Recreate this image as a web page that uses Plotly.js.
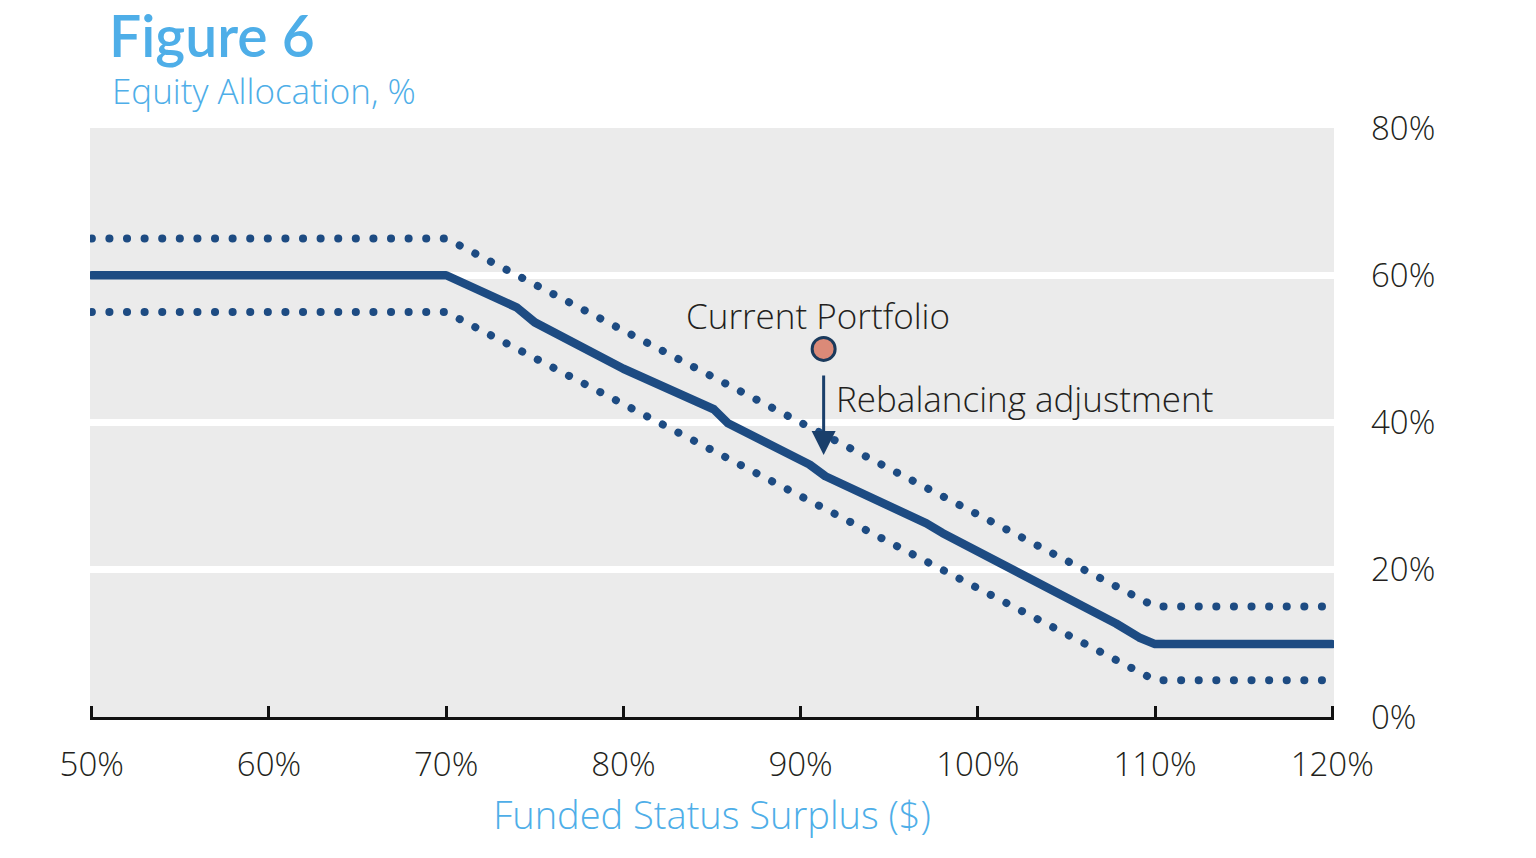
<!DOCTYPE html>
<html>
<head>
<meta charset="utf-8">
<script src="https://cdn.plot.ly/plotly-3.0.1.min.js"></script>
<style>
  html, body { margin: 0; padding: 0; background: #ffffff; }
  #chart { width: 1536px; height: 858px; }
  .scatterlayer path.js-line { stroke-linecap: round; stroke-linejoin: round; }
</style>
</head>
<body>
<div id="chart"></div>
<script>
// Funded status (x, %) and equity allocation (y, %)
const targetX = [50, 70, 74, 75, 80, 85.1, 85.9, 90.5, 91.4, 95.6, 97.1, 98, 102, 103.1, 107.8, 109.1, 110, 120];
const targetY = [60, 60, 55.6, 53.6, 47.3, 41.8, 39.9, 34.3, 32.7, 28.2, 26.3, 25.0, 20.1, 18.5, 12.7, 10.8, 9.9, 9.9];

const upperX = [50, 70, 110, 120];
const upperY = [65, 65, 15, 15];

const lowerX = [50, 70, 110, 120];
const lowerY = [55, 55, 5, 5];

const currentX = [91.3];
const currentY = [50];

const arrowFromY = 46.6;
const arrowToY = 35.6;

const xTickVals = [50, 60, 70, 80, 90, 100, 110, 120];
const xTickText = ["50%", "60%", "70%", "80%", "90%", "100%", "110%", "120%"];
const yTickVals = [0, 20, 40, 60, 80];
const yTickText = ["0%", "20%", "40%", "60%", "80%"];

const navy = "#1d4b82";
const lightBlue = "#4eaee8";
const textDark = "#231f20";
const FONT = "'Open Sans', Lato, sans-serif";
const TFONT = "Lato, 'Open Sans', sans-serif";

const traces = [
  { x: upperX, y: upperY, mode: "lines", line: { color: navy, width: 8, dash: "0.1px,17.5px" }, hoverinfo: "skip", name: "Upper band" },
  { x: lowerX, y: lowerY, mode: "lines", line: { color: navy, width: 8, dash: "0.1px,17.5px" }, hoverinfo: "skip", name: "Lower band" },
  { x: targetX, y: targetY, mode: "lines", line: { color: navy, width: 8.5 }, name: "Target" },
  { x: currentX, y: currentY, mode: "markers", marker: { size: 23, color: "#db8a78", line: { color: "#1b3a5c", width: 3 } }, name: "Current Portfolio" }
];

const layout = {
  width: 1536,
  height: 858,
  margin: { l: 90, r: 202, t: 128, b: 141 },
  paper_bgcolor: "#ffffff",
  plot_bgcolor: "#ebebeb",
  showlegend: false,
  font: { family: FONT, color: textDark, weight: 300 },
  title: {
    text: "Figure 6",
    font: { family: TFONT, size: 57, color: lightBlue, weight: 600 },
    xref: "container", x: 109 / 1536, xanchor: "left",
    yref: "container", y: 1 - 37 / 858, yanchor: "middle"
  },
  xaxis: {
    range: [49.9, 120.1],
    tickvals: xTickVals,
    ticktext: xTickText,
    ticks: "inside",
    ticklen: 11,
    tickwidth: 3,
    tickcolor: "#111111",
    showline: true,
    linecolor: "#111111",
    linewidth: 3,
    showgrid: false,
    zeroline: false,
    ticklabelstandoff: 16,
    tickfont: { family: FONT, size: 33, color: textDark, weight: 300 },
    title: { text: "Funded Status Surplus ($)", font: { family: FONT, size: 38, color: lightBlue, weight: 300 }, standoff: 18 },
    fixedrange: true
  },
  yaxis: {
    range: [0, 80],
    side: "right",
    tickvals: yTickVals,
    ticktext: yTickText,
    ticks: "",
    showgrid: true,
    gridcolor: "#ffffff",
    gridwidth: 7,
    zeroline: false,
    showline: false,
    ticklabelstandoff: 36,
    tickfont: { family: FONT, size: 33, color: textDark, weight: 300 },
    fixedrange: true
  },
  annotations: [
    { text: "Equity Allocation, %", xref: "paper", yref: "paper", x: (110 - 90) / 1244, y: 1 + (128 - 91) / 589, xanchor: "left", yanchor: "middle", showarrow: false, font: { family: FONT, size: 35, color: lightBlue, weight: 300 } },
    { x: 91.0, y: 54.5, xref: "x", yref: "y", text: "Current Portfolio", showarrow: false, font: { family: FONT, size: 35, color: textDark, weight: 300 }, xanchor: "center", yanchor: "middle" },
    { x: 91.9, y: 43.2, xref: "x", yref: "y", text: "Rebalancing adjustment", showarrow: false, font: { family: FONT, size: 35, color: textDark, weight: 300 }, xanchor: "left", yanchor: "middle" },
    { x: currentX[0], y: arrowToY, ax: currentX[0], ay: arrowFromY, xref: "x", yref: "y", axref: "x", ayref: "y", text: "", showarrow: true, arrowhead: 2, arrowsize: 1.6, arrowwidth: 3, arrowcolor: "#1a3f6b", standoff: 0, startstandoff: 0 }
  ]
};

Plotly.newPlot("chart", traces, layout, { displayModeBar: false, staticPlot: true });
</script>
</body>
</html>
